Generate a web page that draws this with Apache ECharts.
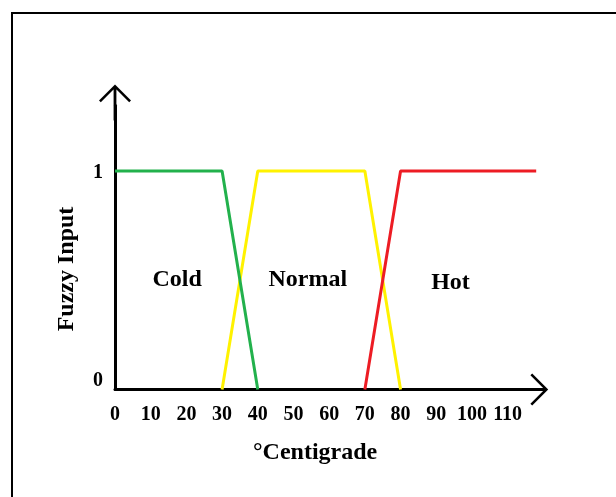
<!DOCTYPE html>
<html><head><meta charset="utf-8">
<script src="https://cdn.jsdelivr.net/npm/echarts@6/dist/echarts.min.js"></script>
<style>
html,body{margin:0;padding:0;background:#fff;overflow:hidden;width:616px;height:497px;}
#frame{position:absolute;left:11px;top:12px;width:640px;height:520px;border-left:2px solid #000;border-top:2px solid #000;}
#chart{position:absolute;left:0;top:0;width:616px;height:497px;}
</style></head><body>
<div id="frame"></div>
<div id="chart"></div>
<script>
// ---- data ----
const xTickLabels = [0, 10, 20, 30, 40, 50, 60, 70, 80, 90, 100, 110];
const yTickLabels = [0, 1];
const coldX = [0, 30, 40];
const coldY = [1, 1, 0];
const normalX = [30, 40, 70, 80];
const normalY = [0, 1, 1, 0];
const hotX = [70, 80, 118];
const hotY = [0, 1, 1];
const regionNames = ['Cold', 'Normal', 'Hot'];
const regionX = [17.4, 54, 94];
const regionY = [0.50, 0.50, 0.49];
const xName = '°Centigrade';
const yName = 'Fuzzy Input';

// ---- chart ----
const FONT = '"Liberation Serif", "Times New Roman", serif';
const arrowPath = 'path://M16,0 L32,16 L30.2,17.8 L16,3.6 L1.8,17.8 L0,16 Z M14.6,2 L17.4,2 L17.4,36 L14.6,36 Z';
const zip = (xs, ys) => xs.map((x, i) => [x, ys[i]]);

const chart = echarts.init(document.getElementById('chart'), null, {renderer: 'canvas'});
chart.setOption({
  backgroundColor: 'transparent',
  animation: false,
  grid: {left: 115, top: 105.5, width: 421.2, height: 284, containLabel: false, outerBoundsMode: 'none'},
  xAxis: {
    type: 'value', min: 0, max: 118, interval: 10,
    name: xName, nameLocation: 'middle', nameGap: 51,
    nameTextStyle: {fontFamily: FONT, fontWeight: 'bold', fontSize: 24, color: '#000', padding: [0, 21, 0, 0]},
    axisLine: {show: true, onZero: false, symbol: ['none', arrowPath], symbolSize: [32, 36], symbolOffset: [0, -6],
      lineStyle: {color: '#000', width: 3}},
    axisTick: {show: false},
    splitLine: {show: false},
    axisLabel: {
      fontFamily: FONT, fontWeight: 'bold', fontSize: 20, color: '#000', margin: 15,
      formatter: v => xTickLabels.includes(v) ? String(v) : ''
    }
  },
  yAxis: {
    type: 'value', min: 0, max: 1.3, interval: 1,
    name: yName, nameLocation: 'middle', nameGap: 36, nameRotate: 90,
    nameTextStyle: {fontFamily: FONT, fontWeight: 'bold', fontSize: 24, color: '#000', padding: [0, 43, 0, 0]},
    axisLine: {show: true, onZero: false, symbol: ['none', arrowPath], symbolSize: [32, 36], symbolOffset: [0, 3],
      lineStyle: {color: '#000', width: 3}},
    axisTick: {show: false},
    splitLine: {show: false},
    axisLabel: {
      fontFamily: FONT, fontWeight: 'bold', fontSize: 20, color: '#000', margin: 12,
      formatter: v => !yTickLabels.includes(v) ? '' : (v === 0 ? '{z|0}' : '{o|' + v + '}'),
      rich: {
        z: {fontFamily: FONT, fontWeight: 'bold', fontSize: 20, color: '#000', padding: [0, 0, 18, 0]},
        o: {fontFamily: FONT, fontWeight: 'bold', fontSize: 20, color: '#000', padding: [4, 0, 0, 0]}
      }
    }
  },
  series: [
    {type: 'line', name: 'Cold', data: zip(coldX, coldY), showSymbol: false, clip: false,
      lineStyle: {color: '#22B14C', width: 3}, itemStyle: {color: '#22B14C'}, z: 3},
    {type: 'line', name: 'Normal', data: zip(normalX, normalY), showSymbol: false, clip: false,
      lineStyle: {color: '#FFF200', width: 3}, itemStyle: {color: '#FFF200'}, z: 2},
    {type: 'line', name: 'Hot', data: zip(hotX, hotY), showSymbol: false, clip: false,
      lineStyle: {color: '#ED1C24', width: 3}, itemStyle: {color: '#ED1C24'}, z: 4},
    {type: 'scatter', symbolSize: 0, silent: true, itemStyle: {opacity: 1},
      data: regionNames.map((n, i) => ({name: n, value: [regionX[i], regionY[i]]})),
      label: {show: true, position: 'inside', formatter: p => p.name, opacity: 1,
        fontFamily: FONT, fontWeight: 'bold', fontSize: 24, color: '#000'}}
  ]
});
</script>
</body></html>
